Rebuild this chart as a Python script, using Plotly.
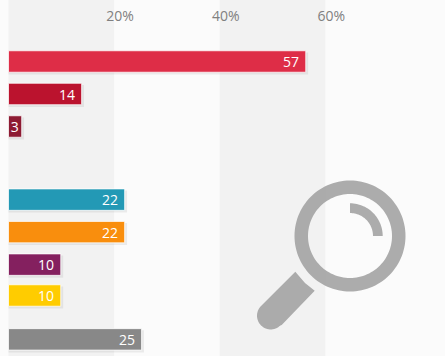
import math
import plotly.graph_objects as go

labels = ["57", "14", "3", "22", "22", "10", "10", "25"]
values = [56.3, 13.85, 2.5, 22.0, 22.0, 9.9, 9.9, 25.2]
rows = [0, 1, 2, 4.25, 5.25, 6.25, 7.2, 8.55]
colors = ["#de2d47", "#bb132e", "#8d1b33", "#2399b5", "#f98e0d", "#84205f", "#ffcc00", "#888888"]
tick_vals = [20, 40, 60]
tick_text = ["20%", "40%", "60%"]
bands = [(0, 20), (40, 60)]

W, H = 445, 356
PX = 5.28
FONT = "Open Sans, sans-serif"


def X(px):
    return px / W


def Y(px):
    return 1 - px / H


def P(x, y):
    return f"{X(x):.5f},{Y(y):.5f}"


def circle(cx, cy, r):
    pts = []
    for i in range(120):
        a = 2 * math.pi * i / 120
        pts.append(P(cx + r * math.cos(a), cy + r * math.sin(a)))
    return "M" + " L".join(pts) + " Z"


def arc_pts(cx, cy, r, a0, a1, n=30):
    return [P(cx + r * math.cos(math.radians(a0 + (a1 - a0) * i / n)),
              cy + r * math.sin(math.radians(a0 + (a1 - a0) * i / n))) for i in range(n + 1)]


fig = go.Figure()
fig.add_trace(go.Bar(
    x=[v + 0.45 for v in values], y=[r + 0.06 for r in rows], orientation="h", width=0.68,
    marker=dict(color="rgba(120,120,120,0.13)", line_width=0), hoverinfo="skip", showlegend=False,
))
fig.add_trace(go.Bar(
    x=values, y=rows, orientation="h", width=0.66,
    marker=dict(color=colors, line=dict(color="rgba(255,255,255,0.75)", width=1)),
    text=labels, textposition="inside", insidetextanchor="end", textangle=0, constraintext="none",
    texttemplate=["%{text}" if len(t) == 1 else "%{text}\u00a0" for t in labels],
    textfont=dict(family=FONT, size=14, color="#ffffff"), cliponaxis=False, showlegend=False,
))

shapes = [
    dict(type="rect", xref="x", yref="paper", x0=a, x1=b, y0=0, y1=1, layer="below",
         fillcolor="#f2f2f2", line_width=0) for a, b in bands
]
icon = "rgba(160,160,160,0.87)"
ring = circle(350, 236, 55.5) + " " + circle(350, 236, 42)
glint = "M" + " L".join(arc_pts(350, 236, 32.7, -90, 0) + arc_pts(350, 236, 23, 0, -90)) + " Z"
handle = "M" + " L".join([P(295.3, 271.7), P(305, 283), P(314.7, 290.7), P(281.7, 325)]
                         + arc_pts(270.7, 315.7, 13.7, 45, 225)) + " Z"
for path in (ring, glint, handle):
    shapes.append(dict(type="path", xref="paper", yref="paper", path=path, fillcolor=icon,
                       line_width=0, layer="above"))

fig.update_layout(
    width=W, height=H, autosize=False,
    margin=dict(l=0, r=0, t=0, b=0),
    paper_bgcolor="#fbfbfb", plot_bgcolor="rgba(0,0,0,0)",
    barmode="overlay", showlegend=False, shapes=shapes,
    xaxis=dict(range=[-8.5 / PX, (W - 8.5) / PX], side="top", tickvals=tick_vals, ticktext=tick_text,
               ticks="", showgrid=False, zeroline=False, showline=False,
               ticklabelposition="inside", ticklabelshift=6, ticklabelstandoff=8,
               tickfont=dict(family=FONT, size=14, color="#808080")),
    yaxis=dict(range=[(H - 61.5) / 32.5, -61.5 / 32.5], visible=False, fixedrange=True),
)
fig.write_html("out.html", config={"displayModeBar": False},
               post_script="document.body.style.margin='0';document.body.style.overflow='hidden';")
